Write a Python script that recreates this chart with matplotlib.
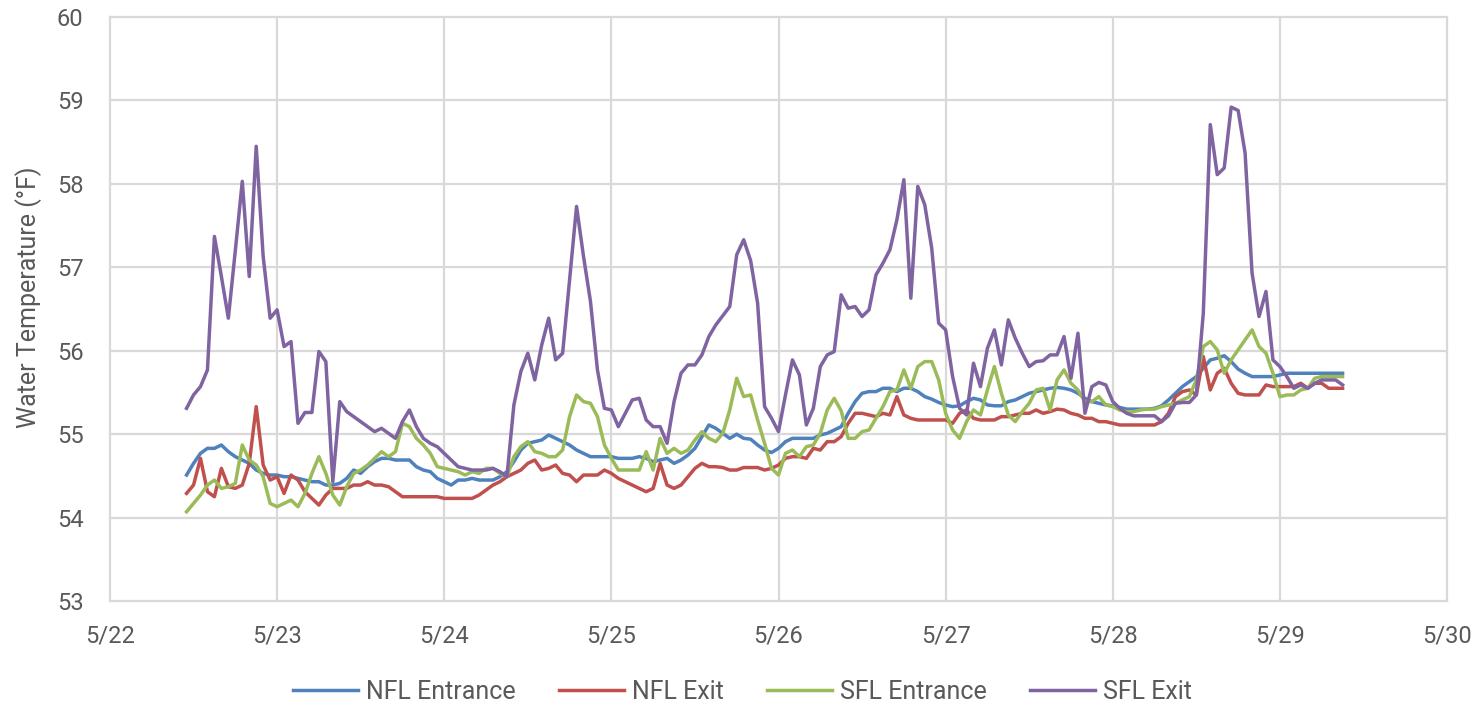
import matplotlib
matplotlib.use("Agg")
import matplotlib.pyplot as plt
import pandas as pd

# hourly readings, 5/22 11:00 .. 5/29 09:00
start_time = "2019-05-22 11:00"
n_points = 167

nfl_entrance = [
    54.51, 54.65, 54.77, 54.83, 54.83, 54.87, 54.79, 54.73, 54.69, 54.65,
    54.57, 54.53, 54.51, 54.51, 54.49, 54.49, 54.47, 54.45, 54.43, 54.43,
    54.39, 54.39, 54.41, 54.47, 54.57, 54.53, 54.61, 54.67, 54.71, 54.71,
    54.69, 54.69, 54.69, 54.61, 54.57, 54.55, 54.47, 54.43, 54.39, 54.45,
    54.45, 54.47, 54.45, 54.45, 54.45, 54.49, 54.55, 54.67, 54.81, 54.89,
    54.91, 54.93, 54.99, 54.95, 54.91, 54.87, 54.81, 54.77, 54.73, 54.73,
    54.73, 54.73, 54.71, 54.71, 54.71, 54.73, 54.71, 54.67, 54.69, 54.71,
    54.65, 54.69, 54.75, 54.83, 54.97, 55.11, 55.07, 55.01, 54.95, 55.00,
    54.95, 54.94, 54.87, 54.81, 54.78, 54.83, 54.91, 54.95, 54.95, 54.95,
    54.95, 54.99, 55.01, 55.05, 55.09, 55.25, 55.39, 55.49, 55.51, 55.51,
    55.55, 55.55, 55.51, 55.55, 55.55, 55.51, 55.45, 55.42, 55.38, 55.35,
    55.33, 55.34, 55.39, 55.43, 55.41, 55.35, 55.34, 55.34, 55.39, 55.41,
    55.45, 55.49, 55.51, 55.53, 55.55, 55.56, 55.55, 55.53, 55.49, 55.43,
    55.39, 55.37, 55.35, 55.34, 55.32, 55.30, 55.30, 55.30, 55.30, 55.31,
    55.34, 55.41, 55.49, 55.57, 55.63, 55.69, 55.79, 55.89, 55.91, 55.94,
    55.87, 55.78, 55.73, 55.69, 55.69, 55.69, 55.69, 55.71, 55.73, 55.73,
    55.73, 55.73, 55.73, 55.73, 55.73, 55.73, 55.73,
]

nfl_exit = [
    54.29, 54.39, 54.71, 54.31, 54.25, 54.59, 54.37, 54.35, 54.39, 54.65,
    55.33, 54.63, 54.45, 54.49, 54.29, 54.51, 54.45, 54.31, 54.23, 54.15,
    54.27, 54.35, 54.35, 54.35, 54.39, 54.39, 54.43, 54.39, 54.39, 54.37,
    54.31, 54.25, 54.25, 54.25, 54.25, 54.25, 54.25, 54.23, 54.23, 54.23,
    54.23, 54.23, 54.27, 54.33, 54.39, 54.43, 54.49, 54.53, 54.57, 54.65,
    54.69, 54.57, 54.59, 54.63, 54.53, 54.51, 54.43, 54.51, 54.51, 54.51,
    54.57, 54.53, 54.47, 54.43, 54.39, 54.35, 54.31, 54.35, 54.65, 54.39,
    54.35, 54.39, 54.49, 54.59, 54.65, 54.61, 54.61, 54.60, 54.57, 54.57,
    54.60, 54.60, 54.60, 54.57, 54.59, 54.63, 54.71, 54.73, 54.73, 54.71,
    54.83, 54.81, 54.91, 54.91, 54.97, 55.13, 55.25, 55.25, 55.23, 55.21,
    55.25, 55.23, 55.45, 55.23, 55.19, 55.17, 55.17, 55.17, 55.17, 55.17,
    55.13, 55.25, 55.29, 55.19, 55.17, 55.17, 55.17, 55.21, 55.21, 55.23,
    55.25, 55.25, 55.29, 55.25, 55.27, 55.30, 55.29, 55.25, 55.23, 55.19,
    55.19, 55.15, 55.15, 55.13, 55.11, 55.11, 55.11, 55.11, 55.11, 55.11,
    55.15, 55.25, 55.45, 55.51, 55.53, 55.47, 55.93, 55.53, 55.73, 55.79,
    55.61, 55.49, 55.47, 55.47, 55.47, 55.59, 55.57, 55.57, 55.57, 55.57,
    55.61, 55.55, 55.61, 55.61, 55.55, 55.55, 55.55,
]

sfl_entrance = [
    54.07, 54.17, 54.27, 54.39, 54.45, 54.35, 54.37, 54.41, 54.87, 54.69,
    54.63, 54.49, 54.17, 54.13, 54.17, 54.21, 54.13, 54.29, 54.53, 54.73,
    54.53, 54.27, 54.15, 54.37, 54.53, 54.57, 54.63, 54.71, 54.79, 54.73,
    54.79, 55.13, 55.09, 54.95, 54.87, 54.77, 54.61, 54.59, 54.57, 54.55,
    54.51, 54.55, 54.53, 54.59, 54.59, 54.53, 54.49, 54.73, 54.85, 54.91,
    54.79, 54.77, 54.73, 54.73, 54.81, 55.21, 55.47, 55.39, 55.37, 55.21,
    54.87, 54.71, 54.57, 54.57, 54.57, 54.57, 54.79, 54.57, 54.95, 54.77,
    54.83, 54.77, 54.81, 54.93, 55.03, 54.95, 54.91, 55.01, 55.29, 55.67,
    55.45, 55.47, 55.17, 54.89, 54.59, 54.51, 54.77, 54.81, 54.73, 54.85,
    54.87, 55.01, 55.29, 55.43, 55.28, 54.95, 54.95, 55.03, 55.05, 55.19,
    55.33, 55.51, 55.53, 55.77, 55.55, 55.81, 55.87, 55.87, 55.65, 55.25,
    55.05, 54.95, 55.15, 55.29, 55.23, 55.53, 55.81, 55.49, 55.23, 55.15,
    55.27, 55.37, 55.53, 55.55, 55.29, 55.65, 55.77, 55.61, 55.53, 55.39,
    55.39, 55.45, 55.35, 55.33, 55.29, 55.27, 55.27, 55.29, 55.30, 55.30,
    55.33, 55.35, 55.37, 55.41, 55.45, 55.65, 56.05, 56.11, 56.01, 55.73,
    55.89, 56.01, 56.13, 56.25, 56.05, 55.97, 55.73, 55.45, 55.47, 55.47,
    55.53, 55.55, 55.67, 55.69, 55.69, 55.69, 55.69,
]

sfl_exit = [
    55.31, 55.47, 55.57, 55.77, 57.37, 56.89, 56.39, 57.20, 58.03, 56.89,
    58.45, 57.13, 56.39, 56.49, 56.05, 56.11, 55.13, 55.26, 55.26, 55.99,
    55.87, 54.43, 55.39, 55.27, 55.21, 55.15, 55.09, 55.03, 55.07, 55.01,
    54.95, 55.15, 55.29, 55.09, 54.95, 54.89, 54.85, 54.77, 54.69, 54.61,
    54.59, 54.57, 54.57, 54.57, 54.59, 54.55, 54.49, 55.35, 55.75, 55.97,
    55.65, 56.07, 56.39, 55.89, 55.97, 56.85, 57.73, 57.13, 56.59, 55.77,
    55.31, 55.29, 55.09, 55.25, 55.41, 55.43, 55.17, 55.09, 55.09, 54.89,
    55.39, 55.73, 55.83, 55.83, 55.95, 56.17, 56.31, 56.42, 56.53, 57.15,
    57.33, 57.08, 56.57, 55.33, 55.19, 55.03, 55.47, 55.89, 55.71, 55.11,
    55.31, 55.81, 55.95, 55.99, 56.67, 56.51, 56.53, 56.41, 56.49, 56.91,
    57.05, 57.21, 57.57, 58.05, 56.63, 57.97, 57.75, 57.23, 56.33, 56.25,
    55.69, 55.31, 55.23, 55.85, 55.57, 56.03, 56.25, 55.83, 56.37, 56.15,
    55.97, 55.81, 55.87, 55.88, 55.95, 55.95, 56.17, 55.67, 56.21, 55.25,
    55.57, 55.62, 55.59, 55.39, 55.31, 55.25, 55.22, 55.22, 55.22, 55.22,
    55.15, 55.22, 55.37, 55.38, 55.38, 55.47, 56.45, 58.71, 58.11, 58.19,
    58.92, 58.88, 58.37, 56.93, 56.41, 56.71, 55.89, 55.81, 55.69, 55.55,
    55.59, 55.55, 55.61, 55.65, 55.65, 55.65, 55.59,
]

series_names = ["NFL Entrance", "NFL Exit", "SFL Entrance", "SFL Exit"]
series_colors = ["#4F81BD", "#C0504D", "#9BBB59", "#8064A2"]

tick_dates = ["2019-05-22", "2019-05-23", "2019-05-24", "2019-05-25", "2019-05-26",
              "2019-05-27", "2019-05-28", "2019-05-29", "2019-05-30"]
tick_labels = ["5/22", "5/23", "5/24", "5/25", "5/26", "5/27", "5/28", "5/29", "5/30"]
y_ticks = [53, 54, 55, 56, 57, 58, 59, 60]

plt.rcParams["font.family"] = ["Roboto", "DejaVu Sans"]

times = pd.date_range(start_time, periods=n_points, freq="h")

fig = plt.figure(figsize=(14.84, 7.09), dpi=100)
ax = fig.add_axes([0.0741, 0.1523, 0.9010, 0.8237])

for vals, name, col in zip([nfl_entrance, nfl_exit, sfl_entrance, sfl_exit],
                           series_names, series_colors):
    ax.plot(times, vals, color=col, lw=2.5, label=name, solid_joinstyle="round")

tick_pos = pd.to_datetime(tick_dates)
ax.set_xlim(tick_pos[0], tick_pos[-1])
ax.set_ylim(y_ticks[0], y_ticks[-1])
ax.set_xticks(tick_pos)
ax.set_xticklabels(tick_labels)
ax.set_yticks(y_ticks)

for s in ax.spines.values():
    s.set_visible(False)
ax.grid(True, color="#D9D9D9", lw=1.6)
ax.set_axisbelow(True)
for gl in ax.get_xgridlines() + ax.get_ygridlines():
    gl.set_clip_on(False)
ax.tick_params(length=0, labelsize=17, labelcolor="#595959")
ax.tick_params(axis="x", pad=17)
ax.tick_params(axis="y", pad=19)
ax.set_ylabel("Water Temperature (°F)", fontsize=18, color="#595959")
ax.yaxis.set_label_coords(-0.0505, 0.52)

leg = ax.legend(loc="center", bbox_to_anchor=(0.473, -0.155), ncol=4, frameon=False,
                fontsize=18, handlelength=2.6, handletextpad=0.35, columnspacing=1.7)
for t in leg.get_texts():
    t.set_color("#595959")

fig.savefig("out.png", dpi=100)
